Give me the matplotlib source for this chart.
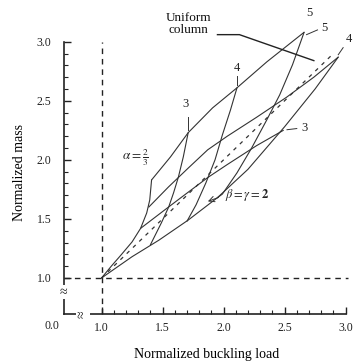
import matplotlib.pyplot as plt

plt.rcParams['font.family'] = ['Liberation Serif', 'DejaVu Serif']
plt.rcParams['mathtext.fontset'] = 'stix'

# ---------- DATA (normalized buckling load, normalized mass) ----------

# left boundary curve (alpha label)
alpha_x = [1.0, 1.08, 1.16, 1.25, 1.32, 1.37, 1.395, 1.41]
alpha_y = [1.0, 1.10, 1.195, 1.305, 1.42, 1.55, 1.66, 1.83]

# flatter family, labelled at the right end
beta5_x = [1.41, 1.565, 1.71, 1.91, 2.11, 2.355, 2.66]
beta5_y = [1.83, 2.025, 2.23, 2.44, 2.61, 2.83, 3.08]
beta4_x = [1.387, 1.548, 1.71, 1.87, 2.03, 2.27, 2.516, 2.74, 2.94]
beta4_y = [1.60, 1.77, 1.93, 2.085, 2.20, 2.36, 2.53, 2.70, 2.87]
beta3_x = [1.32, 1.51, 1.67, 1.87, 2.03, 2.27, 2.49]
beta3_y = [1.42, 1.57, 1.695, 1.85, 1.96, 2.12, 2.25]
beta2_x = [1.0, 1.25, 1.47, 1.71, 1.95, 2.2, 2.5, 2.75, 2.94]
beta2_y = [1.0, 1.18, 1.32, 1.49, 1.68, 1.92, 2.28, 2.60, 2.87]

# steeper family, labelled at the top
steep3_x = [1.71, 1.67, 1.63, 1.59, 1.55, 1.49, 1.40]
steep3_y = [2.23, 2.025, 1.855, 1.72, 1.60, 1.466, 1.28]
steep4_x = [2.11, 2.056, 1.99, 1.93, 1.855, 1.775, 1.70]
steep4_y = [2.61, 2.42, 2.21, 2.00, 1.805, 1.62, 1.48]
steep5_x = [2.66, 2.565, 2.46, 2.355, 2.23, 2.11, 1.99, 1.95]
steep5_y = [3.08, 2.805, 2.55, 2.34, 2.10, 1.89, 1.71, 1.68]

# uniform column (mass = load)
uniform_x = [1.0, 2.9]
uniform_y = [1.0, 2.9]

x_ticks = [1.0, 1.5, 2.0, 2.5, 3.0]
y_ticks = [1.0, 1.5, 2.0, 2.5, 3.0]
minor_ticks = [v / 10 for v in range(11, 30)]

# ---------- PLOT ----------
fig = plt.figure(figsize=(3.54, 3.62), dpi=100)
ax = fig.add_axes([0.18, 0.1326, 0.81, 0.85])
ax.set_xlim(0.69, 3.04)
ax.set_ylim(0.695, 3.3)

ink = '#333333'
curves = [(alpha_x, alpha_y), (beta5_x, beta5_y), (beta4_x, beta4_y),
          (beta3_x, beta3_y), (beta2_x, beta2_y), (steep3_x, steep3_y),
          (steep4_x, steep4_y), (steep5_x, steep5_y)]
for cx, cy in curves:
    ax.plot(cx, cy, color=ink, lw=0.8, solid_capstyle='round')

ax.plot(uniform_x, uniform_y, color=ink, lw=0.9, ls=(0, (3, 4)))

# reference dashed lines at 1.0
ax.plot([1.0, 1.0], [0.695, 3.0], color='#222222', lw=1.0, ls=(0, (4, 3.5)))
ax.plot([0.69, 3.02], [1.0, 1.0], color='#222222', lw=1.0, ls=(0, (4, 3.5)))

# axes
for s in ['top', 'right']:
    ax.spines[s].set_visible(False)
ax.spines['left'].set_bounds(0.695, 3.0)
ax.spines['bottom'].set_bounds(0.69, 3.0)
for s in ['left', 'bottom']:
    ax.spines[s].set_linewidth(1.2)
    ax.spines[s].set_color('#222222')

ax.set_xticks(x_ticks)
ax.set_yticks(y_ticks)
ax.set_xticklabels(['%.1f' % t for t in x_ticks])
ax.set_yticklabels(['%.1f' % t for t in y_ticks])
ax.xaxis.set_minor_locator(plt.FixedLocator(minor_ticks))
ax.yaxis.set_minor_locator(plt.FixedLocator(minor_ticks))
ax.tick_params(which='major', direction='in', length=5, width=1.0, labelsize=8.5,
               colors='#222222')
ax.tick_params(which='minor', direction='in', length=3, width=0.8, colors='#222222')
ax.tick_params(axis='y', pad=9)
ax.tick_params(axis='x', pad=6)

ax.text(0.595, 0.593, '0.0', fontsize=8.5, ha='center', va='center',
        color='#222222', clip_on=False)

# axis breaks
ax.text(0.69, 0.88, '\u2248', fontsize=10, ha='center', va='center',
        color='#222222', bbox=dict(fc='white', ec='none', pad=0.3))
ax.text(0.845, 0.695, '\u2248', fontsize=10, ha='center', va='center', rotation=90,
        color='#222222', bbox=dict(fc='white', ec='none', pad=0.3))

ax.set_xlabel('Normalized buckling load', fontsize=10, labelpad=10)
ax.set_ylabel('Normalized mass', fontsize=10)
ax.yaxis.set_label_coords(-0.13, 0.46)

# curve labels
lab = dict(fontsize=9, ha='center', va='center', color='#222222')
ax.text(1.685, 2.47, '3', **lab)
ax.plot([1.71, 1.71], [2.36, 2.25], color=ink, lw=0.7)
ax.text(2.11, 2.78, '4', **lab)
ax.plot([2.11, 2.11], [2.71, 2.63], color=ink, lw=0.7)
ax.text(2.70, 3.245, '5', **lab)
ax.text(2.83, 3.12, '5', **lab)
ax.plot([2.77, 2.68], [3.10, 3.06], color=ink, lw=0.7)
ax.text(3.03, 3.02, '4', clip_on=False, **lab)
ax.plot([2.98, 2.94], [2.95, 2.89], color=ink, lw=0.7)
ax.text(2.66, 2.27, '3', **lab)
ax.plot([2.60, 2.52], [2.265, 2.255], color=ink, lw=0.7)

ax.text(1.28, 2.02, r'$\alpha = \frac{2}{3}$', fontsize=9.5, ha='center', va='center',
        color='#222222')
ax.text(2.19, 1.70, r'$\beta = \gamma = \mathbf{2}$', fontsize=9, ha='center',
        va='center', color='#222222')
ax.annotate('', xy=(1.85, 1.64), xytext=(1.98, 1.69),
            arrowprops=dict(arrowstyle='->', color=ink, lw=0.7))

ax.text(1.71, 3.15, 'Uniform\ncolumn', fontsize=9.5, ha='center', va='center',
        color='#111111', linespacing=1.0)
ax.plot([1.95, 2.13, 2.74], [3.06, 3.06, 2.84], color='#222222', lw=1.0)

fig.savefig('out.png', dpi=100, facecolor='white')
